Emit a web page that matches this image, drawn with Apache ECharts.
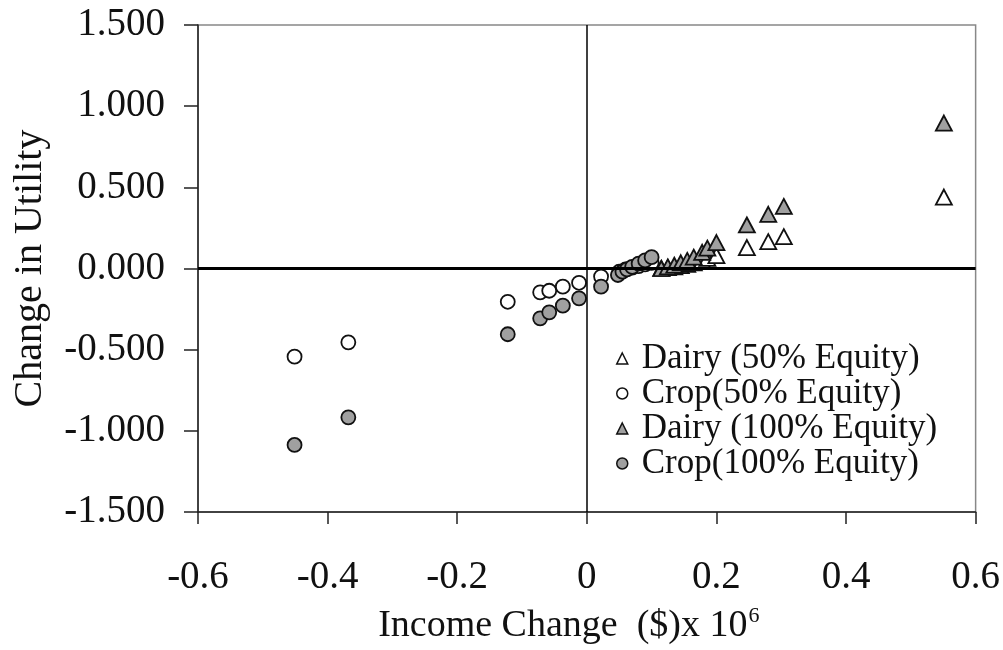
<!DOCTYPE html>
<html>
<head>
<meta charset="utf-8">
<script src="https://cdn.jsdelivr.net/npm/echarts@6/dist/echarts.min.js"></script>
<style>html,body{margin:0;padding:0;background:#fff}#c{width:1003px;height:650px}</style>
</head>
<body>
<div id="c"></div>
<script>
// ---- data (x = income change in $ x 10^6, y = change in utility) ----
const seriesNames = ["Dairy (50% Equity)", "Crop(50% Equity)", "Dairy (100% Equity)", "Crop(100% Equity)"];
const xTicks = [-0.6, -0.4, -0.2, 0, 0.2, 0.4, 0.6];
const yTicks = [-1.5, -1.0, -0.5, 0, 0.5, 1.0, 1.5];

const dairy50 = [
  [0.115, 0.000], [0.125, 0.005], [0.135, 0.010], [0.145, 0.017], [0.155, 0.025],
  [0.165, 0.035], [0.178, 0.050], [0.186, 0.062], [0.200, 0.080],
  [0.247, 0.129], [0.280, 0.165], [0.304, 0.196], [0.551, 0.440]
];
const crop50 = [
  [-0.451, -0.543], [-0.368, -0.455], [-0.122, -0.205], [-0.072, -0.147],
  [-0.058, -0.137], [-0.037, -0.112], [-0.012, -0.088], [0.022, -0.050],
  [0.050, -0.020], [0.060, -0.005], [0.070, 0.005], [0.080, 0.015],
  [0.090, 0.025], [0.100, 0.035]
];
const dairy100 = [
  [0.115, 0.000], [0.125, 0.010], [0.135, 0.020], [0.145, 0.035], [0.155, 0.050],
  [0.165, 0.070], [0.178, 0.100], [0.186, 0.125], [0.200, 0.160],
  [0.247, 0.268], [0.280, 0.334], [0.304, 0.383], [0.551, 0.896]
];
const crop100 = [
  [-0.451, -1.087], [-0.368, -0.917], [-0.122, -0.405], [-0.072, -0.307],
  [-0.058, -0.270], [-0.037, -0.229], [-0.012, -0.184], [0.022, -0.112],
  [0.048, -0.040], [0.055, -0.020], [0.062, -0.005], [0.070, 0.010],
  [0.080, 0.030], [0.090, 0.050], [0.100, 0.070]
];

const FONT = "'Liberation Serif', 'DejaVu Serif', serif";
const GRAY = '#a0a0a0';
const EDGE = '#111';

const chart = echarts.init(document.getElementById('c'), null, {renderer: 'canvas'});

function mk(name, data, symbol, fill, size, z) {
  return {
    name: name, type: 'scatter', data: data, symbol: symbol, symbolSize: size, z: z,
    itemStyle: {color: fill, borderColor: EDGE, borderWidth: 1.8, opacity: 1},
    emphasis: {disabled: true}
  };
}

const series = [
  mk(seriesNames[0], dairy50, 'triangle', '#ffffff', [16, 15], 3),
  mk(seriesNames[1], crop50, 'circle', '#ffffff', 14, 3),
  mk(seriesNames[2], dairy100, 'triangle', GRAY, [16, 15], 4),
  mk(seriesNames[3], crop100, 'circle', GRAY, 14, 4)
];
// zero reference lines
series.push({
  type: 'line', data: [], z: 2, silent: true,
  markLine: {
    silent: true, symbol: ['none', 'none'], label: {show: false},
    data: [
      {yAxis: 0, lineStyle: {color: '#000', width: 3, type: 'solid'}},
      {xAxis: 0, lineStyle: {color: '#000', width: 1.5, type: 'solid'}}
    ]
  }
});

const legendIcon = (name, icon, fill) => ({
  name: name, icon: icon,
  itemStyle: {color: fill, borderColor: EDGE, borderWidth: 1.5}
});

chart.setOption({
  animation: false,
  backgroundColor: '#fff',
  grid: {left: 198, right: 26, top: 25, bottom: 138, show: true, borderColor: '#888', borderWidth: 1.5},
  legend: {
    orient: 'vertical', left: 611, top: 336, itemGap: 0,
    itemWidth: 11, itemHeight: 11,
    textStyle: {fontFamily: FONT, fontSize: 35, lineHeight: 35, color: '#111', padding: [0, 0, 0, 9]},
    data: [
      legendIcon(seriesNames[0], 'triangle', '#fff'),
      legendIcon(seriesNames[1], 'circle', '#fff'),
      legendIcon(seriesNames[2], 'triangle', GRAY),
      legendIcon(seriesNames[3], 'circle', GRAY)
    ]
  },
  xAxis: {
    type: 'value', min: xTicks[0], max: xTicks[xTicks.length - 1], interval: 0.2,
    axisLine: {onZero: false, lineStyle: {color: '#222', width: 1.5}},
    axisTick: {show: true, inside: false, length: 12, lineStyle: {color: '#222', width: 1.5}},
    splitLine: {show: false},
    axisLabel: {
      margin: 46, fontFamily: FONT, fontSize: 39, color: '#111',
      formatter: v => { const t = xTicks.find(k => Math.abs(k - v) < 1e-9); return t === undefined ? '' : String(t); }
    },
    name: '{a|Income Change  ($)x 10}{s|6}',
    nameLocation: 'middle', nameGap: 93,
    nameTextStyle: {
      padding: [0, 36, 0, 0],
      rich: {
        a: {fontFamily: FONT, fontSize: 38, color: '#111'},
        s: {fontFamily: FONT, fontSize: 22, color: '#111', padding: [0, 0, 20, 1]}
      }
    }
  },
  yAxis: {
    type: 'value', min: yTicks[0], max: yTicks[yTicks.length - 1], interval: 0.5,
    axisLine: {onZero: false, lineStyle: {color: '#222', width: 1.5}},
    axisTick: {show: true, inside: false, length: 14, lineStyle: {color: '#222', width: 1.5}},
    splitLine: {show: false},
    axisLabel: {
      margin: 33, fontFamily: FONT, fontSize: 39, color: '#111',
      formatter: v => v.toFixed(3)
    },
    name: 'Change in Utility',
    nameLocation: 'middle', nameGap: 148, nameRotate: 90,
    nameTextStyle: {fontFamily: FONT, fontSize: 40, color: '#111'}
  },
  series: series
});
</script>
</body>
</html>
